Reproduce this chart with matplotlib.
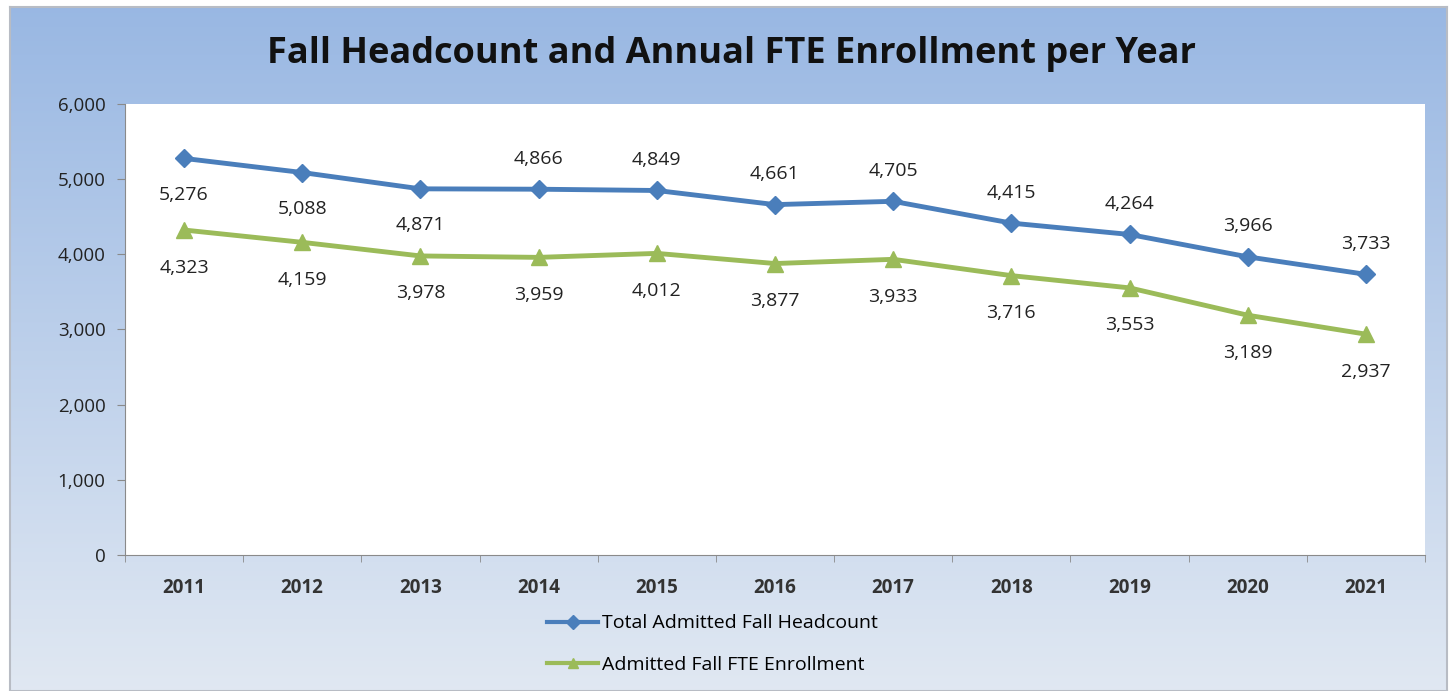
import matplotlib
matplotlib.use("Agg")
import matplotlib.pyplot as plt
import numpy as np

years = ["2011", "2012", "2013", "2014", "2015", "2016", "2017", "2018", "2019", "2020", "2021"]
headcount = [5276, 5088, 4871, 4866, 4849, 4661, 4705, 4415, 4264, 3966, 3733]
fte = [4323, 4159, 3978, 3959, 4012, 3877, 3933, 3716, 3553, 3189, 2937]
# headcount labels: first three sit below the point, the rest above
head_below = [True, True, True, False, False, False, False, False, False, False, False]

plt.rcParams['font.family'] = ['Open Sans', 'DejaVu Sans']

fig = plt.figure(figsize=(14.51, 6.91), dpi=100)
fig.patch.set_facecolor("white")

# gradient background panel
bg = fig.add_axes([0.007, 0.0, 0.99, 0.99])
grad = np.linspace(0, 1, 256).reshape(-1, 1)
top = np.array([0.60, 0.72, 0.89])
bot = np.array([0.88, 0.91, 0.95])
img = top + (bot - top) * grad[:, :, None]
bg.imshow(img, aspect="auto", extent=[0, 1, 0, 1])
bg.set_xticks([])
bg.set_yticks([])
for s in bg.spines.values():
    s.set_color("#b8bcc4")
    s.set_linewidth(1.5)

ax = fig.add_axes([0.0861, 0.197, 0.8960, 0.6525])
ax.set_facecolor("white")
x = np.arange(len(years))

ax.plot(x, headcount, color="#4a7ebb", lw=3.5, marker="D", ms=9,
        label="Total Admitted Fall Headcount", zorder=3)
ax.plot(x, fte, color="#9bbb59", lw=3.5, marker="^", ms=11,
        label="Admitted Fall FTE Enrollment", zorder=3)

for i, v in enumerate(headcount):
    off = -26 if head_below[i] else 22
    ax.annotate(f"{v:,}", (x[i], v), xytext=(0, off), textcoords="offset points",
                ha="center", va="center", fontsize=14, color="#222222")
for i, v in enumerate(fte):
    ax.annotate(f"{v:,}", (x[i], v), xytext=(0, -27), textcoords="offset points",
                ha="center", va="center", fontsize=14, color="#222222")

ax.set_xlim(-0.5, len(years) - 0.5)
ax.set_ylim(0, 6000)
ax.set_yticks(range(0, 6001, 1000))
ax.set_yticklabels([f"{t:,}" for t in range(0, 6001, 1000)], fontsize=13.5, color="#222222")
ax.set_xticks(x)
ax.set_xticklabels(years, fontsize=13.5, fontweight="bold", color="#333333")
ax.set_xticks(np.arange(-0.5, len(years), 1), minor=True)
ax.tick_params(axis="x", which="major", length=0, pad=17)
ax.tick_params(axis="x", which="minor", length=5, color="#8a8a8a", direction="out")
ax.tick_params(axis="y", length=6, color="#8a8a8a", direction="out", pad=8)
for s in ["top", "right"]:
    ax.spines[s].set_visible(False)
ax.spines["left"].set_color("#8a8a8a")
ax.spines["bottom"].set_color("#8a8a8a")

fig.text(0.504, 0.922, "Fall Headcount and Annual FTE Enrollment per Year",
         ha="center", va="center", fontsize=26, fontweight="bold", color="#111111")

leg = fig.legend(loc="center", bbox_to_anchor=(0.491, 0.068), ncol=1, frameon=False,
                 fontsize=14, handlelength=2.6, labelspacing=1.2, handletextpad=0.2)
for h in leg.legend_handles:
    h.set_markersize(7)
    h.set_linewidth(3)

fig.savefig("out.png", dpi=100)
